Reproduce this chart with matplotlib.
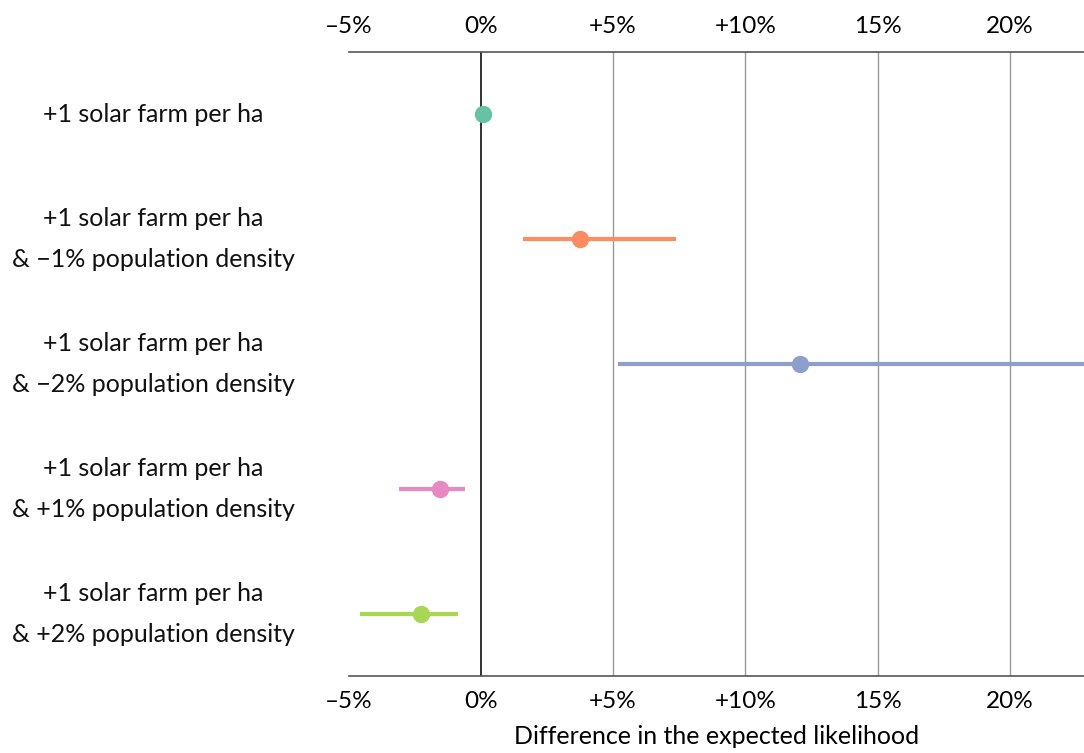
import matplotlib
matplotlib.use("Agg")
import matplotlib.pyplot as plt

plt.rcParams['font.family'] = ['Lato', 'DejaVu Sans']

labels = [
    "+1 solar farm per ha",
    "+1 solar farm per ha\n& \u22121% population density",
    "+1 solar farm per ha\n& \u22122% population density",
    "+1 solar farm per ha\n& +1% population density",
    "+1 solar farm per ha\n& +2% population density",
]
estimate = [0.1, 3.74, 12.06, -1.55, -2.27]
ci_low = [0.1, 1.6, 5.2, -3.1, -4.57]
ci_high = [0.1, 7.37, 24.0, -0.6, -0.87]
colors = ["#66c2a5", "#fc8d62", "#8da0cb", "#e78ac3", "#a6d854"]

tick_values = [-5, 0, 5, 10, 15, 20]
tick_labels = ["\u20135%", "0%", "+5%", "+10%", "15%", "20%"]

fig = plt.figure(figsize=(10.84, 7.53), dpi=100)
ax = fig.add_axes([0.3215, 0.1023, 0.6785, 0.8287])

for x in [5, 10, 15, 20]:
    ax.axvline(x, color="#999999", lw=1.0, zorder=1)
ax.axvline(0, color="#222222", lw=1.3, zorder=1)

for i, (est, lo, hi, c) in enumerate(zip(estimate, ci_low, ci_high, colors)):
    ax.plot([lo, hi], [i, i], color=c, lw=3.0, solid_capstyle="butt", zorder=2)
    ax.plot(est, i, "o", color=c, markersize=11.5, zorder=3)

ax.set_xlim(-5, 22.8)
ax.set_ylim(4.5, -0.5)

ax.set_xticks(tick_values)
ax.set_xticklabels(tick_labels, fontsize=17.5)
ax.tick_params(axis="x", length=0, top=True, labeltop=True, bottom=True, labelbottom=True)
for t in ax.xaxis.get_major_ticks():
    t.set_pad(11)
ax.set_yticks([])

for side in ["left", "right"]:
    ax.spines[side].set_visible(False)
for side in ["top", "bottom"]:
    ax.spines[side].set_color("#555555")
    ax.spines[side].set_linewidth(1.2)

for i, lab in enumerate(labels):
    fig.text(153 / 1084, 1 - (114 + 125 * i) / 753, lab, ha="center", va="center",
             fontsize=18, linespacing=1.95, color="#111111")

ax.set_xlabel("Difference in the expected likelihood", fontsize=18, labelpad=9)

fig.savefig("out.png", dpi=100)
